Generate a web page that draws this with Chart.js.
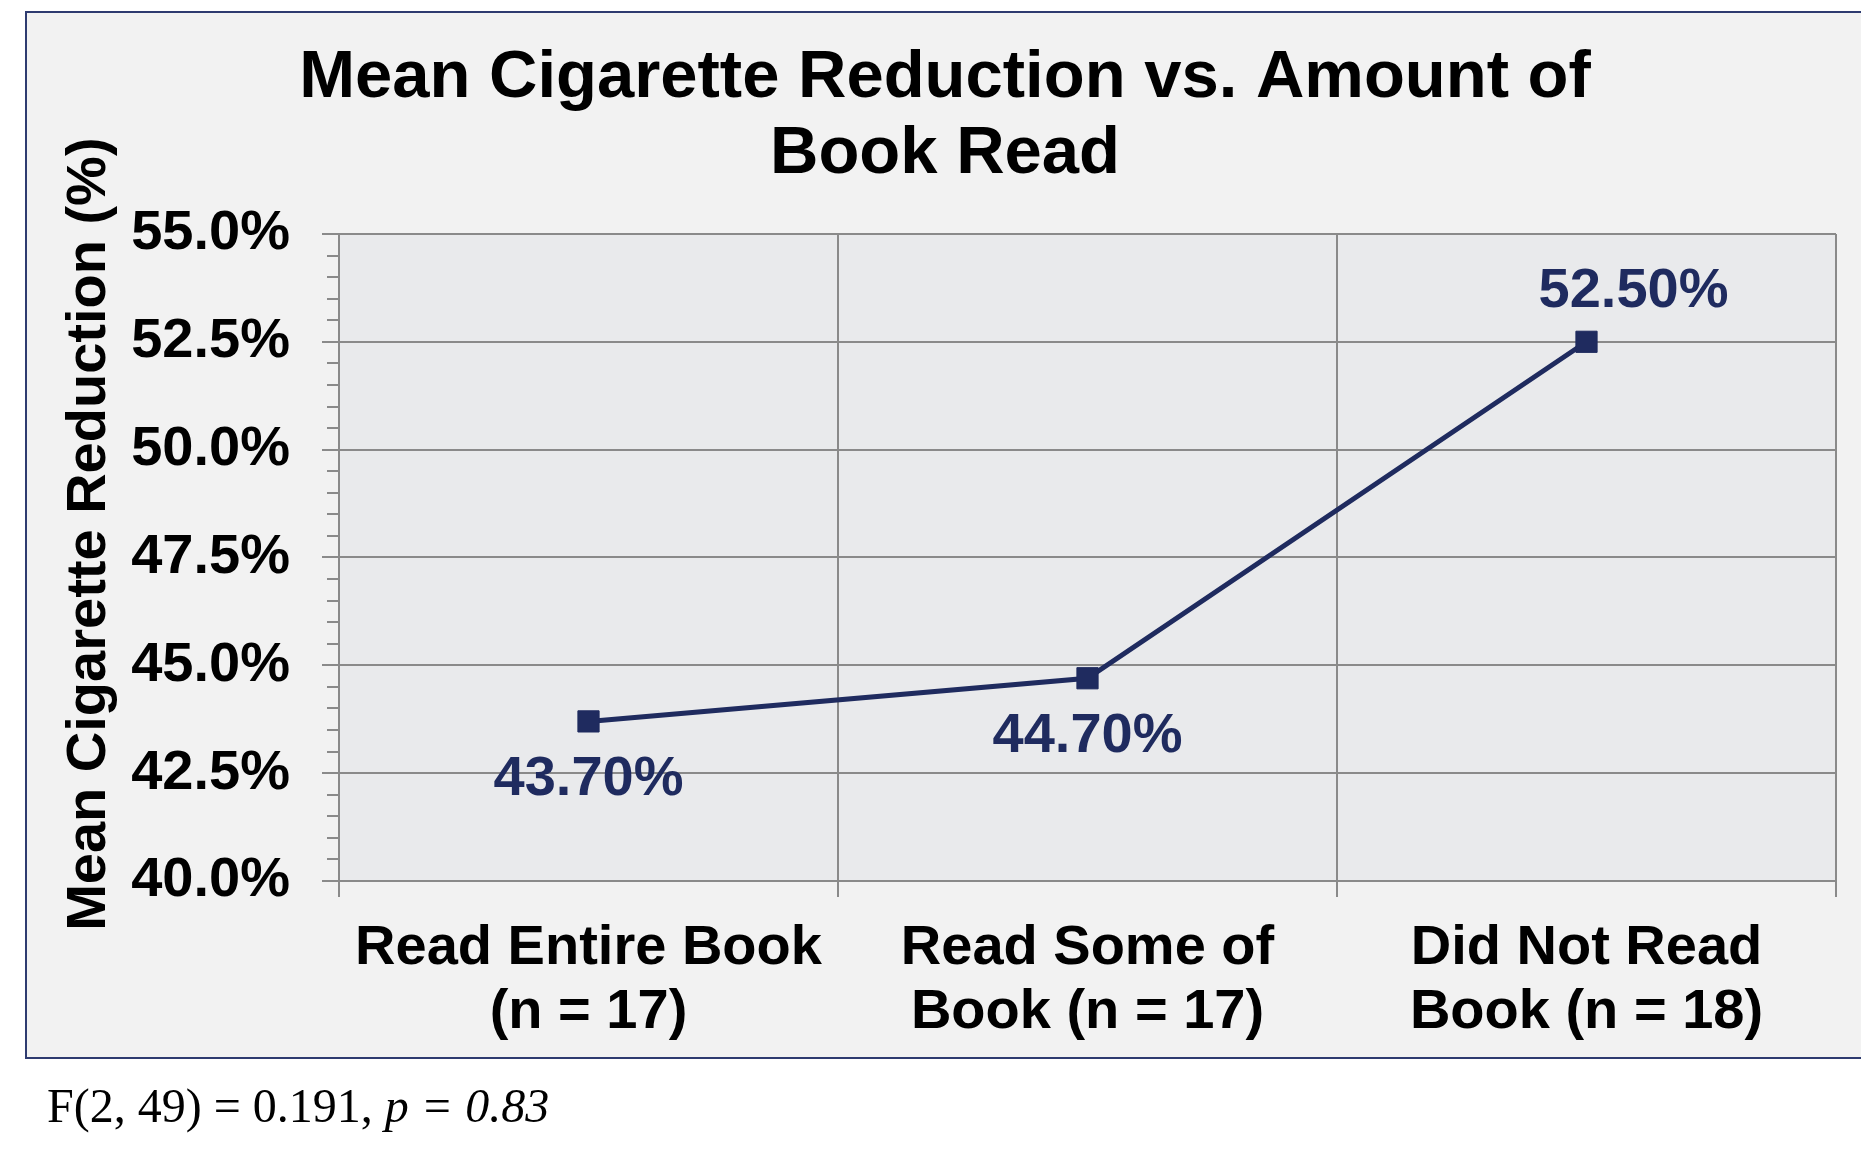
<!DOCTYPE html>
<html lang="en">
<head>
    <meta charset="UTF-8">
    <title>Mean Cigarette Reduction vs. Amount of Book Read</title>
    <script src="https://cdn.jsdelivr.net/npm/chart.js"></script>
    <style>
        * {
            margin: 0;
            padding: 0;
            box-sizing: border-box;
        }

        body {
            background: #ffffff;
            width: 1861px;
            height: 1163px;
            overflow: hidden;
            position: relative;
            font-family: 'Liberation Sans', Arial, sans-serif;
        }

        .frame {
            position: absolute;
            left: 25px;
            top: 11px;
            width: 1900px;
            height: 1048px;
            background: #f2f2f2;
            border: 2px solid #2e3b70;
        }

        #chart {
            position: absolute;
            left: 0;
            top: 0;
        }

        .stats {
            position: absolute;
            left: 47px;
            top: 1082px;
            font-family: 'Liberation Serif', 'DejaVu Serif', serif;
            font-size: 48px;
            line-height: 48px;
            color: #000;
            white-space: nowrap;
        }
    </style>
</head>
<body>
    <div class="frame"></div>
    <canvas id="chart" width="1861" height="1163"></canvas>
    <div class="stats">F(2, 49) = 0.191, <i>p = 0.83</i></div>

    <script>
        // chart data
        const categories = [
            ['Read Entire Book', '(n = 17)'],
            ['Read Some of', 'Book (n = 17)'],
            ['Did Not Read', 'Book (n = 18)']
        ];
        const meanReduction = [43.7, 44.7, 52.5];
        const yMin = 40;
        const yMax = 55;
        const yMajorStep = 2.5;
        const yMinorStep = 0.5;

        const navy = '#1f2b5f';
        const gridGray = '#8a8a8a';
        const font = "'Liberation Sans', Arial, sans-serif";

        // plot background
        const plotBackground = {
            id: 'plotBackground',
            beforeDraw(chart) {
                const {ctx, chartArea: a} = chart;
                ctx.save();
                ctx.fillStyle = '#e9eaec';
                ctx.fillRect(a.left, a.top, a.right - a.left, a.bottom - a.top);
                ctx.restore();
            }
        };

        // value labels next to each point
        const pointLabels = {
            id: 'pointLabels',
            afterDatasetsDraw(chart, args, opts) {
                const {ctx} = chart;
                const ds = chart.data.datasets[0];
                const meta = chart.getDatasetMeta(0);
                ctx.save();
                ctx.font = 'bold 56px ' + font;
                ctx.fillStyle = navy;
                ctx.textAlign = 'center';
                ctx.textBaseline = 'alphabetic';
                meta.data.forEach((pt, i) => {
                    const text = ds.data[i].toFixed(2) + '%';
                    ctx.fillText(text, pt.x + opts.dx[i], pt.y + opts.dy[i]);
                });
                ctx.restore();
            }
        };

        new Chart(document.getElementById('chart').getContext('2d'), {
            type: 'line',
            data: {
                labels: categories,
                datasets: [{
                    data: meanReduction,
                    borderColor: navy,
                    borderWidth: 5,
                    backgroundColor: navy,
                    pointStyle: 'rect',
                    pointRadius: 15,
                    pointBorderWidth: 1,
                    pointBorderColor: navy,
                    pointBackgroundColor: navy,
                    tension: 0,
                    yAxisID: 'y'
                }]
            },
            options: {
                responsive: false,
                devicePixelRatio: 1,
                animation: false,
                layout: {
                    padding: {left: 54, right: 25, top: 0, bottom: 0}
                },
                plugins: {
                    legend: {display: false},
                    tooltip: {enabled: false},
                    title: {
                        display: true,
                        text: ['Mean Cigarette Reduction vs. Amount of', 'Book Read'],
                        color: '#000',
                        font: {family: font, size: 67, weight: 'bold', lineHeight: 1.134},
                        padding: {top: 41, bottom: 41}
                    },
                    pointLabels: {
                        dx: [0, 0, 47],
                        dy: [74, 74, -35]
                    }
                },
                scales: {
                    x: {
                        type: 'category',
                        offset: true,
                        grid: {
                            offset: true,
                            color: gridGray,
                            lineWidth: 2,
                            tickLength: 16
                        },
                        border: {color: gridGray, width: 2},
                        ticks: {
                            color: '#000',
                            font: {family: font, size: 56, weight: 'bold', lineHeight: 1.143},
                            padding: 20,
                            maxRotation: 0,
                            autoSkip: false
                        },
                        afterFit(scale) {
                            scale.height = 282;
                        }
                    },
                    y: {
                        position: 'left',
                        weight: 1,
                        min: yMin,
                        max: yMax,
                        ticks: {
                            stepSize: yMajorStep,
                            color: '#000',
                            font: {family: font, size: 56, weight: 'bold'},
                            padding: 32,
                            callback: v => v.toFixed(1) + '%'
                        },
                        grid: {
                            color: gridGray,
                            lineWidth: 2,
                            tickLength: 17
                        },
                        border: {color: gridGray, width: 2},
                        title: {
                            display: true,
                            text: '   Mean Cigarette Reduction (%)',
                            color: '#000',
                            font: {family: font, size: 56, weight: 'bold'},
                            padding: {top: 2, bottom: 0}
                        },
                        afterFit(scale) {
                            scale.width = 285;
                        }
                    },
                    yMinor: {
                        position: 'left',
                        weight: 0,
                        min: yMin,
                        max: yMax,
                        ticks: {
                            stepSize: yMinorStep,
                            display: false
                        },
                        grid: {
                            drawOnChartArea: false,
                            color: gridGray,
                            lineWidth: 2,
                            tickLength: 12
                        },
                        border: {display: false},
                        afterFit(scale) {
                            scale.width = 0;
                        }
                    }
                }
            },
            plugins: [plotBackground, pointLabels]
        });
    </script>
</body>
</html>
